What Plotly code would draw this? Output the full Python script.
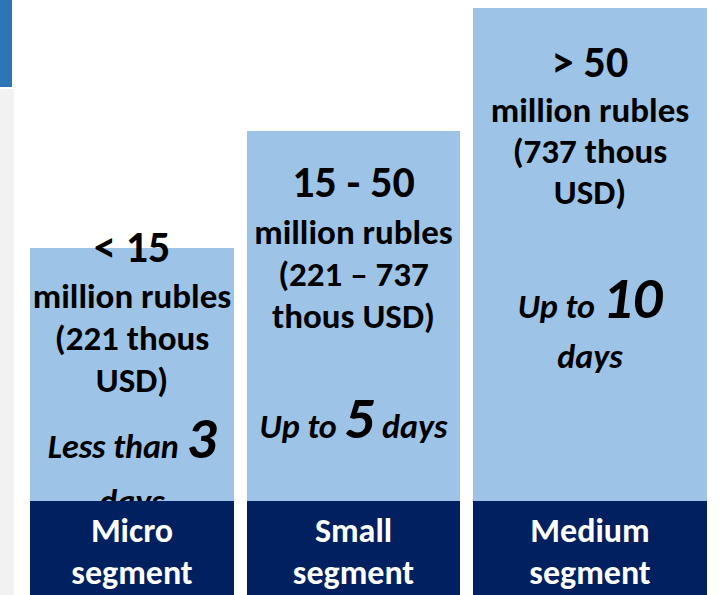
import plotly.graph_objects as go

# ---- data ----
segments = ["Micro", "Small", "Medium"]
label_line1 = ["Micro", "Small", "Medium"]
label_line2 = ["segment", "segment", "segment"]
bar_height = [347, 464, 587]        # visual height of each segment column
label_band = [94, 94, 94]           # dark label band at the bottom
threshold_text = ["< 15", "15 - 50", "> 50"]
amount_lines = [
    ["million rubles", "(221 thous", "USD)"],
    ["million rubles", "(221 – 737", "thous USD)"],
    ["million rubles", "(737 thous", "USD)"],
]
term_prefix = ["Less than", "Up to", "Up to"]
term_number = ["3", "5", "10"]

# ---- layout constants ----
LIGHT = "#9DC3E6"
NAVY = "#002060"
FONT = "Calibri, Carlito, Lato, sans-serif"
offsets = [-0.4454, -0.4978, -0.511]   # bar left edge relative to category position
widths = [0.8908, 0.930, 1.0218]
pos = list(range(len(segments)))
CAP = 0.35                               # plotly baseline shift (em) for middle-aligned text
S_BIG, S_AMT, S_TERM, S_NUM, S_LAB = 44, 35, 34, 59, 34
# baseline depth (px) of each text line below the top of its bar
depths = [
    [18, 63, 105, 147, 213, 268],
    [70, 116, 158, 200, 310],
    [73, 117, 158, 199, 313, 363],
]
label_baselines = [50, 8]                # px above the bottom for the two label lines

fig = go.Figure()
fig.add_trace(go.Bar(x=pos, y=bar_height, marker=dict(color=LIGHT, line_width=0),
                     width=widths, offset=offsets, hoverinfo="skip", showlegend=False,
                     name="segment"))

centres = [p + o + w / 2 for p, o, w in zip(pos, offsets, widths)]
xs, ys, txt, sizes = [], [], [], []
for i, seg in enumerate(segments):
    top = bar_height[i]
    lines = [("<b>%s</b>" % threshold_text[i], S_BIG)]
    lines += [("<b>%s</b>" % l, S_AMT) for l in amount_lines[i]]
    big = '<span style="font-size:%dpx">%s</span>' % (S_NUM, term_number[i])
    if i == 1:
        lines.append(("<b><i>%s %s days</i></b>" % (term_prefix[i], big), S_TERM))
    else:
        lines.append(("<b><i>%s %s</i></b>" % (term_prefix[i], big), S_TERM))
        lines.append(("<b><i>days</i></b>", S_TERM))
    for (t, s), d in zip(lines, depths[i]):
        xs.append(centres[i])
        ys.append(top - d + CAP * s)
        txt.append(t)
        sizes.append(s)

fig.add_trace(go.Scatter(x=xs, y=ys, mode="text", text=txt, textposition="middle center",
                         textfont=dict(family=FONT, size=sizes, color="#000000"),
                         hoverinfo="skip", showlegend=False, cliponaxis=False))

# dark label band drawn on an overlaid axis so it covers overflowing text
fig.add_trace(go.Bar(x=pos, y=label_band, marker=dict(color=NAVY, line_width=0),
                     width=widths, offset=offsets, hoverinfo="skip", showlegend=False,
                     yaxis="y2", name="label"))
lx, ly, lt = [], [], []
for i in pos:
    for line, b in zip((label_line1[i], label_line2[i]), label_baselines):
        lx.append(centres[i])
        ly.append(b + CAP * S_LAB)
        lt.append("<b>%s</b>" % line)
fig.add_trace(go.Scatter(x=lx, y=ly, mode="text", text=lt, textposition="middle center",
                         textfont=dict(family=FONT, size=S_LAB, color="white"),
                         hoverinfo="skip", showlegend=False, yaxis="y2", cliponaxis=False))

# decorative left strips
fig.add_shape(type="rect", xref="paper", yref="paper", x0=0, x1=12 / 721, y0=1 - 87 / 595, y1=1,
              fillcolor="#2E75B6", line_width=0, layer="below")
fig.add_shape(type="rect", xref="paper", yref="paper", x0=0, x1=14 / 721, y0=0, y1=1 - 89 / 595,
              fillcolor="#F2F2F2", line_width=0, layer="below")

fig.update_layout(
    width=721, height=595, margin=dict(l=0, r=0, t=0, b=0),
    paper_bgcolor="white", plot_bgcolor="rgba(0,0,0,0)",
    barmode="overlay", bargap=0,
    xaxis=dict(range=[-0.5764, 2.572], visible=False, fixedrange=True),
    yaxis=dict(range=[0, 595], visible=False, fixedrange=True),
    yaxis2=dict(range=[0, 595], visible=False, overlaying="y", fixedrange=True),
)
fig.write_html("out.html", config={"displayModeBar": False},
               post_script="document.body.style.margin='0';")
